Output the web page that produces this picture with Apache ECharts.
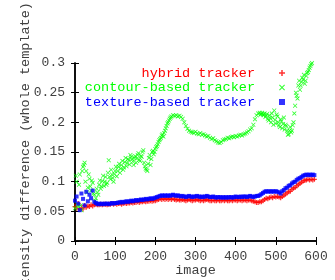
<!DOCTYPE html>
<html>
<head>
<meta charset="utf-8">
<script src="https://cdn.jsdelivr.net/npm/echarts@6/dist/echarts.min.js"></script>
<style>html,body{margin:0;padding:0;background:#fff}#c{width:335px;height:280px}</style>
</head>
<body>
<div id="c"></div>
<script>
// image index step used for all series
const xStep = 4;
const seriesNames = ['hybrid tracker', 'contour-based tracker', 'texture-based tracker'];
const yTicks = [0, 0.05, 0.1, 0.15, 0.2, 0.25, 0.3];
const xTicks = [0, 100, 200, 300, 400, 500, 600];

// x = 0, 4, 8, ...
const hybrid = [
0.058,0.055,0.063,0.053,0.056,0.054,0.060,0.057,0.059,0.058,0.061,0.059,0.061,
0.062,0.061,0.061,0.062,0.061,0.062,0.062,0.061,0.062,0.062,0.063,0.062,0.063,
0.062,0.063,0.063,0.062,0.063,0.064,0.063,0.064,0.064,0.065,0.064,0.065,0.065,0.066,0.065,0.066,0.066,0.067,0.066,0.067,0.067,0.068,0.067,0.068,0.068,
0.069,0.070,0.071,0.070,0.071,0.070,0.071,0.070,0.071,0.070,0.071,0.070,0.069,0.070,0.069,
0.069,0.070,0.069,0.068,0.069,0.070,0.069,0.068,0.069,0.069,
0.070,0.069,0.068,0.069,0.068,0.069,0.070,0.069,0.068,0.068,
0.069,0.068,0.068,0.069,0.068,0.068,0.069,0.068,0.069,0.068,
0.068,0.069,0.068,0.069,0.069,0.068,0.069,0.069,0.068,0.069,
0.069,0.068,0.069,0.069,0.068,0.067,0.066,0.065,0.065,0.066,
0.066,0.068,0.070,0.072,0.071,0.073,0.074,0.073,0.075,0.074,0.075,0.074,0.073,
0.075,0.077,0.079,0.081,0.083,0.084,0.087,0.089,0.090,0.093,0.095,0.097,0.099,0.101,0.102,
0.103,0.104,0.103,0.104,0.103,0.104
];

// x = 0, 4, 8, ... 588
const contour = [
0.055,0.100,0.058,0.112,0.052,0.125,0.132,0.118,0.090,0.105,0.085,0.098,0.078,
0.072,0.082,0.095,0.088,0.101,0.093,0.108,0.098,0.136,0.104,0.112,0.100,0.118,
0.109,0.125,0.115,0.128,0.120,0.133,0.126,0.138,0.129,0.142,0.134,0.140,0.132,0.145,0.137,0.143,0.150,0.132,0.122,0.118,0.140,0.128,0.150,0.146,0.155,
0.160,0.167,0.172,0.178,0.176,0.186,0.194,0.200,0.206,0.210,0.212,0.211,0.212,0.210,0.211,
0.209,0.206,0.200,0.194,0.189,0.186,0.184,0.183,0.182,0.184,
0.181,0.180,0.182,0.179,0.180,0.178,0.176,0.177,0.174,0.172,
0.173,0.170,0.168,0.166,0.165,0.167,0.170,0.171,0.172,0.174,
0.173,0.175,0.176,0.175,0.177,0.176,0.178,0.179,0.178,0.180,
0.181,0.183,0.185,0.188,0.190,0.196,0.205,0.212,0.215,0.216,
0.214,0.213,0.215,0.211,0.206,0.212,0.200,0.208,0.220,0.198,0.210,0.195,0.205,
0.190,0.208,0.196,0.186,0.180,0.192,0.186,0.200,0.228,0.245,0.262,0.255,0.268,0.272,0.265,
0.278,0.285,0.292,0.298
];
// extra contour readings in the noisy stretches: x = 2, 6, ... 238
const contourEarly = [
0.110,0.062,0.095,0.060,0.118,0.128,0.100,0.082,0.112,0.092,0.102,0.080,0.068,
0.088,0.078,0.102,0.092,0.110,0.100,0.095,0.115,0.108,0.120,0.106,0.113,
0.125,0.118,0.130,0.122,0.135,0.124,0.140,0.131,0.136,0.145,0.138,0.128,0.143,
0.139,0.148,0.135,0.142,0.153,0.126,0.120,0.130,0.145,0.138,0.152,0.150,
0.158,0.163,0.170,0.174,0.180,0.182,0.190,0.198,0.203,0.208
];
// x = 462, 466, ... 590
const contourLate = [
0.213,0.216,0.212,0.209,0.214,0.203,0.207,0.215,0.196,0.204,0.213,0.200,0.192,0.202,0.197,
0.188,0.194,0.179,0.186,0.183,0.195,0.215,0.250,0.240,0.270,0.262,0.275,0.280,0.270,0.283,
0.288,0.295,0.300
];

// x = 0, 4, 8, ...
const texture = [
0.068,0.075,0.063,0.052,0.080,0.071,0.060,0.083,0.067,0.078,0.072,0.085,0.066,
0.064,0.062,0.063,0.062,0.063,0.062,0.063,0.063,0.062,0.063,0.064,0.063,0.064,
0.064,0.065,0.065,0.066,0.065,0.066,0.067,0.066,0.067,0.068,0.067,0.068,0.069,0.068,0.069,0.070,0.069,0.070,0.071,0.070,0.071,0.072,0.071,0.072,0.073,
0.074,0.075,0.076,0.077,0.076,0.077,0.076,0.077,0.076,0.077,0.078,0.077,0.076,0.077,0.076,
0.075,0.076,0.075,0.074,0.075,0.076,0.075,0.074,0.075,0.075,
0.076,0.075,0.074,0.075,0.074,0.075,0.076,0.075,0.074,0.074,
0.075,0.074,0.073,0.074,0.074,0.073,0.074,0.073,0.074,0.073,
0.074,0.074,0.073,0.074,0.075,0.074,0.074,0.075,0.074,0.075,
0.075,0.074,0.075,0.076,0.075,0.074,0.075,0.076,0.076,0.077,
0.079,0.081,0.083,0.084,0.083,0.084,0.083,0.084,0.083,0.084,0.083,0.082,0.080,
0.084,0.086,0.089,0.090,0.093,0.094,0.097,0.099,0.100,0.103,0.105,0.106,0.108,0.110,0.111,
0.112,0.111,0.112,0.111,0.112,0.111
];

function pairs(arr, x0){ return arr.map((v,i)=>[x0 + i*xStep, v]); }

const FONT = 'Liberation Mono';
const GRAY = '#404040';
const plusPath = 'path://M3,0H5V3H8V5H5V8H3V5H0V3H3Z';
const crossPath = 'path://M1,0L4,3L7,0L8,1L5,4L8,7L7,8L4,5L1,8L0,7L3,4L0,1Z';
const squarePath = 'path://M0,0H8V8H0Z';

const axisLine = {show:true, lineStyle:{color:'#000', width:1.5}};
const tickIn = {show:true, inside:true, length:4, lineStyle:{color:'#000', width:1}};

const chart = echarts.init(document.getElementById('c'), null, {renderer:'canvas'});
chart.setOption({
  animation:false,
  backgroundColor:'#fff',
  grid:{left:75, right:19, top:63, bottom:39, containLabel:false, outerBoundsMode:'none'},
  legend:{
    orient:'vertical', right:45, top:61, align:'right',
    itemWidth:8, itemHeight:6, itemGap:0.5,
    textStyle:{fontFamily:FONT, fontSize:13.5, lineHeight:14, padding:[0,18,0,0]},
    data:[
      {name:seriesNames[0], textStyle:{color:'#ff0000'}},
      {name:seriesNames[1], textStyle:{color:'#00ff00'}},
      {name:seriesNames[2], textStyle:{color:'#0000ff'}}
    ]
  },
  xAxis:[{
    type:'value', min:xTicks[0], max:xTicks[xTicks.length-1], interval:100,
    axisLine:axisLine, axisTick:tickIn, splitLine:{show:false},
    axisLabel:{margin:9, fontFamily:FONT, fontSize:13, color:GRAY},
    name:'image', nameLocation:'middle', nameGap:22, nameMoveOverlap:false,
    nameTextStyle:{fontFamily:FONT, fontSize:13.5, color:GRAY}
  },{
    type:'value', position:'top', min:xTicks[0], max:xTicks[xTicks.length-1], interval:100,
    axisLine:axisLine, axisTick:tickIn, splitLine:{show:false}, axisLabel:{show:false}
  }],
  yAxis:[{
    type:'value', min:yTicks[0], max:yTicks[yTicks.length-1], interval:0.05,
    axisLine:axisLine, axisTick:tickIn, splitLine:{show:false},
    axisLabel:{margin:10, fontFamily:FONT, fontSize:13, color:GRAY},
    name:'intensity difference (whole template)', nameLocation:'middle', nameRotate:90, nameGap:43,
    nameMoveOverlap:false,
    nameTextStyle:{fontFamily:FONT, fontSize:13.5, color:GRAY}
  },{
    type:'value', position:'right', min:yTicks[0], max:yTicks[yTicks.length-1], interval:0.05,
    axisLine:axisLine, axisTick:tickIn, splitLine:{show:false}, axisLabel:{show:false}
  }],
  series:[
    {name:seriesNames[0], type:'scatter', data:pairs(hybrid, 0), symbol:plusPath, symbolSize:5,
     itemStyle:{color:'#ff0000'}, clip:true},
    {name:seriesNames[1], type:'scatter',
     data:pairs(contour, 0).concat(pairs(contourEarly, 2), pairs(contourLate, 462)),
     symbol:crossPath, symbolSize:4.5, itemStyle:{color:'#00ff00'}, clip:true},
    {name:seriesNames[2], type:'scatter', data:pairs(texture, 0), symbol:squarePath, symbolSize:4,
     itemStyle:{color:'#0000ff'}, clip:true}
  ]
});
</script>
</body>
</html>
